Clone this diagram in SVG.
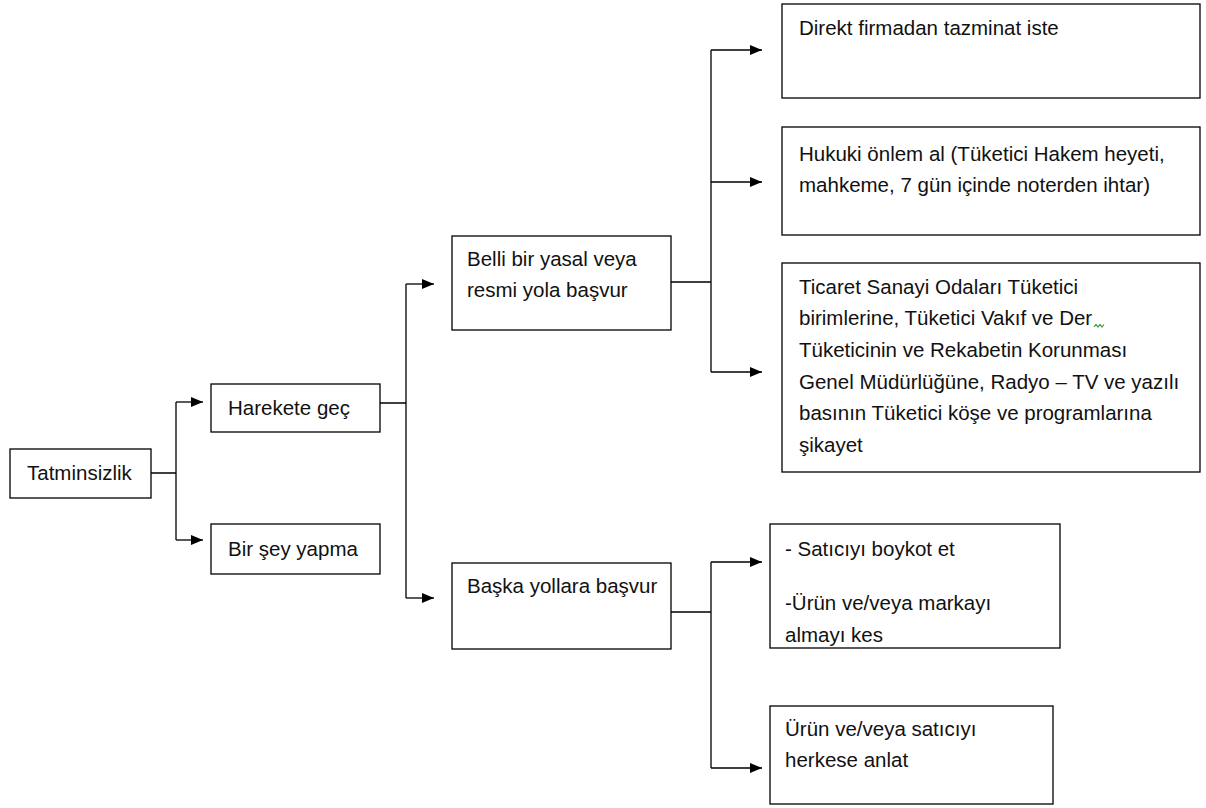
<svg xmlns="http://www.w3.org/2000/svg" width="1206" height="808" viewBox="0 0 1206 808">
<style>
.box{fill:#fff;stroke:#000;stroke-width:1.3}
.t{font-family:"Liberation Sans",Arial,sans-serif;font-size:20.5px;fill:#111}
.c{fill:none;stroke:#000;stroke-width:1.3}
</style>
<defs>
<marker id="ah" viewBox="0 0 12 10" refX="12" refY="5" markerWidth="12" markerHeight="10" markerUnits="userSpaceOnUse" orient="auto">
<path d="M0,0 L12,5 L0,10 Z" fill="#000"/>
</marker>
<clipPath id="clipS"><rect x="770" y="524" width="290" height="124"/></clipPath>
</defs>
<rect width="1206" height="808" fill="#fff"/>
<g id="connectors">
<path class="c" d="M151,473 H176 M176,402 V540"/>
<path class="c" d="M176,402 H203" marker-end="url(#ah)"/>
<path class="c" d="M176,540 H203" marker-end="url(#ah)"/>
<path class="c" d="M380,403 H406 M406,284 V598"/>
<path class="c" d="M406,284 H434" marker-end="url(#ah)"/>
<path class="c" d="M406,598 H434" marker-end="url(#ah)"/>
<path class="c" d="M671,282 H711 M711,50 V372"/>
<path class="c" d="M711,50 H762" marker-end="url(#ah)"/>
<path class="c" d="M711,182 H762" marker-end="url(#ah)"/>
<path class="c" d="M711,372 H762" marker-end="url(#ah)"/>
<path class="c" d="M671,612 H711 M711,562 V768"/>
<path class="c" d="M711,562 H762" marker-end="url(#ah)"/>
<path class="c" d="M711,768 H762" marker-end="url(#ah)"/>
</g>
<g id="tatminsizlik">
<rect class="box" x="10" y="449" width="141" height="49"/>
<text class="t" x="27" y="480">Tatminsizlik</text>
</g>
<g id="harekete-gec">
<rect class="box" x="211" y="384" width="169" height="48"/>
<text class="t" x="228" y="415">Harekete geç</text>
</g>
<g id="bir-sey-yapma">
<rect class="box" x="211" y="524" width="169" height="50"/>
<text class="t" x="228" y="556">Bir şey yapma</text>
</g>
<g id="belli-bir-yasal">
<rect class="box" x="452" y="236" width="219" height="94"/>
<text class="t" x="467" y="266">Belli bir yasal veya</text>
<text class="t" x="467" y="297">resmi yola başvur</text>
</g>
<g id="baska-yollara">
<rect class="box" x="452" y="563" width="219" height="86"/>
<text class="t" x="467" y="593">Başka yollara başvur</text>
</g>
<g id="direkt">
<rect class="box" x="782" y="4" width="418" height="94"/>
<text class="t" x="799" y="35">Direkt firmadan tazminat iste</text>
</g>
<g id="hukuki">
<rect class="box" x="782" y="127" width="418" height="108"/>
<text class="t" x="799" y="161">Hukuki önlem al (Tüketici Hakem heyeti,</text>
<text class="t" x="799" y="192">mahkeme, 7 gün içinde noterden ihtar)</text>
</g>
<g id="ticaret">
<rect class="box" x="782" y="263" width="418" height="209"/>
<text class="t" x="799" y="294">Ticaret Sanayi Odaları Tüketici</text>
<text class="t" x="799" y="325">birimlerine, Tüketici Vakıf ve Der</text>
<path d="M1094,327 l2,-2.5 l2,2.5 l2,-2.5 l2,2.5 l2,-2.5" fill="none" stroke="#3a9a3a" stroke-width="1.2"/>
<text class="t" x="799" y="357">Tüketicinin ve Rekabetin Korunması</text>
<text class="t" x="799" y="389">Genel Müdürlüğüne, Radyo – TV ve yazılı</text>
<text class="t" x="799" y="420">basının Tüketici köşe ve programlarına</text>
<text class="t" x="799" y="452">şikayet</text>
</g>
<g id="saticiyi-boykot">
<rect class="box" x="770" y="524" width="290" height="124"/>
<g clip-path="url(#clipS)">
<text class="t" x="785" y="556">- Satıcıyı boykot et</text>
<text class="t" x="785" y="610">-Ürün ve/veya markayı</text>
<text class="t" x="785" y="642">almayı kes</text>
</g>
</g>
<g id="herkese-anlat">
<rect class="box" x="770" y="706" width="283" height="98"/>
<text class="t" x="785" y="736">Ürün ve/veya satıcıyı</text>
<text class="t" x="785" y="767">herkese anlat</text>
</g>
</svg>
